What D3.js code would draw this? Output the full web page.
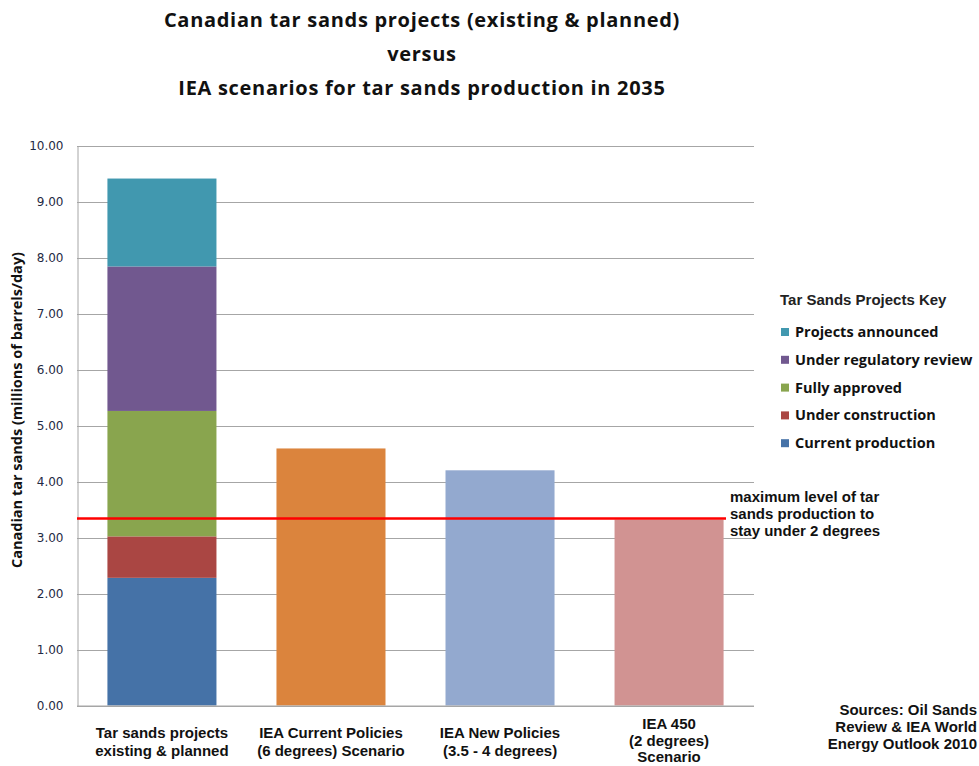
<!DOCTYPE html>
<html>
<head>
<meta charset="utf-8">
<script src="https://cdn.jsdelivr.net/npm/d3@7"></script>
<style>
  body { margin: 0; background: #fff; }
  svg { display: block; }
</style>
</head>
<body>
<svg id="chart" width="979" height="766"></svg>
<script>
// ---------- data ----------
const categories = ["Tar sands projects existing & planned", "IEA Current Policies (6 degrees) Scenario",
    "IEA New Policies (3.5 - 4 degrees)", "IEA 450 (2 degrees) Scenario"];
const categoryLines = [
    ["Tar sands projects", "existing & planned"],
    ["IEA Current Policies", "(6 degrees) Scenario"],
    ["IEA New Policies", "(3.5 - 4 degrees)"],
    ["IEA 450", "(2 degrees)", "Scenario"]
];
// stacked pieces for the first bar (bottom to top)
const stackKeys = ["Current production", "Under construction", "Fully approved", "Under regulatory review", "Projects announced"];
const stackValues = [2.28, 0.74, 2.24, 2.58, 1.57];
const stackColors = ["#4572a7", "#aa4643", "#89a54e", "#71588f", "#4198af"];
// single bars for the IEA scenarios
const scenarioValues = [4.59, 4.20, 3.32];
const scenarioColors = ["#db843d", "#93a9cf", "#d19392"];
const limitValue = 3.34;
const yTicks = [0, 1, 2, 3, 4, 5, 6, 7, 8, 9, 10];

// ---------- layout ----------
const svg = d3.select("#chart");
const plot = { left: 77, right: 754, top: 145.5, bottom: 705.5 };

const x = d3.scaleBand()
    .domain(categories)
    .range([plot.left, plot.right])
    .paddingInner(0.355)
    .paddingOuter(0.18);

const y = d3.scaleLinear()
    .domain([0, 10])
    .range([plot.bottom, plot.top]);

// title
const title = ["Canadian tar sands projects (existing & planned)", "versus",
    "IEA scenarios for tar sands production in 2035"];
svg.append("g").selectAll("text")
    .data(title)
    .enter().append("text")
    .attr("x", 422)
    .attr("y", (d, i) => 27 + i * 34)
    .attr("text-anchor", "middle")
    .style("font-family", "'Open Sans', sans-serif")
    .style("font-weight", "bold")
    .style("font-size", "20px")
    .style("letter-spacing", "0.7px")
    .style("fill", "#111")
    .text(d => d);

// gridlines
svg.append("g")
    .selectAll("line")
    .data(yTicks)
    .enter().append("line")
    .attr("x1", plot.left)
    .attr("x2", plot.right)
    .attr("y1", d => Math.round(y(d)) + 0.5)
    .attr("y2", d => Math.round(y(d)) + 0.5)
    .attr("stroke", "#a6a6a6")
    .attr("stroke-width", 1);

// y axis
const yAxis = svg.append("g")
    .attr("transform", "translate(" + (plot.left + 0.5) + ",0)")
    .call(d3.axisLeft(y).tickValues(yTicks).tickSize(0).tickPadding(14).tickFormat(d3.format(".2f")));
yAxis.select(".domain").attr("stroke", "#a6a6a6");
yAxis.selectAll("text")
    .style("font-family", "'DejaVu Sans', Verdana, sans-serif")
    .style("font-size", "12px")
    .style("fill", "#1f2a44");

// y axis title
svg.append("text")
    .attr("transform", "translate(22," + 410 + ") rotate(-90)")
    .attr("text-anchor", "middle")
    .style("font-family", "'Open Sans', sans-serif")
    .style("font-weight", "bold")
    .style("font-size", "14.5px")
    .style("fill", "#111")
    .text("Canadian tar sands (millions of barrels/day)");

// stacked bar
let base = 0;
const stacked = stackValues.map((v, i) => {
    const s = { key: stackKeys[i], y0: base, y1: base + v, color: stackColors[i] };
    base += v;
    return s;
});
svg.append("g").selectAll("rect")
    .data(stacked)
    .enter().append("rect")
    .attr("x", x(categories[0]))
    .attr("width", x.bandwidth())
    .attr("y", d => y(d.y1))
    .attr("height", d => y(d.y0) - y(d.y1))
    .attr("fill", d => d.color);

// scenario bars
svg.append("g").selectAll("rect")
    .data(scenarioValues)
    .enter().append("rect")
    .attr("x", (d, i) => x(categories[i + 1]))
    .attr("width", x.bandwidth())
    .attr("y", d => y(d))
    .attr("height", d => y(0) - y(d))
    .attr("fill", (d, i) => scenarioColors[i]);

// bottom axis line
svg.append("line")
    .attr("x1", plot.left)
    .attr("x2", plot.right)
    .attr("y1", plot.bottom + 0.5)
    .attr("y2", plot.bottom + 0.5)
    .attr("stroke", "#a6a6a6");

// category labels
categoryLines.forEach((lines, i) => {
    svg.append("text")
        .attr("x", x(categories[i]) + x.bandwidth() / 2)
        .attr("y", lines.length > 2 ? 729 : 738)
        .attr("text-anchor", "middle")
        .style("font-family", "'Liberation Sans', Arial, sans-serif")
        .style("font-weight", "bold")
        .style("font-size", "15px")
        .style("fill", "#111")
        .selectAll("tspan")
        .data(lines)
        .enter().append("tspan")
        .attr("x", x(categories[i]) + x.bandwidth() / 2)
        .attr("dy", (d, j) => j === 0 ? 0 : (lines.length > 2 ? 16.5 : 17.5))
        .text(d => d);
});

// 2 degree limit line
svg.append("line")
    .attr("x1", plot.left)
    .attr("x2", 726)
    .attr("y1", y(limitValue))
    .attr("y2", y(limitValue))
    .attr("stroke", "#ff0000")
    .attr("stroke-width", 2.5);

svg.append("text")
    .attr("x", 730)
    .attr("y", 502)
    .style("font-family", "'Liberation Sans', Arial, sans-serif")
    .style("font-weight", "bold")
    .style("font-size", "15px")
    .style("fill", "#111")
    .selectAll("tspan")
    .data(["maximum level of tar", "sands production to", "stay under 2 degrees"])
    .enter().append("tspan")
    .attr("x", 730)
    .attr("dy", (d, j) => j === 0 ? 0 : 17)
    .text(d => d);

// legend
const legend = svg.append("g");
legend.append("text")
    .attr("x", 780)
    .attr("y", 305)
    .style("font-family", "'Liberation Sans', Arial, sans-serif")
    .style("font-weight", "bold")
    .style("font-size", "15px")
    .style("fill", "#222")
    .text("Tar Sands Projects Key");

const legendItems = stacked.slice().reverse();
const item = legend.selectAll("g.item")
    .data(legendItems)
    .enter().append("g")
    .attr("class", "item")
    .attr("transform", (d, i) => "translate(781," + (332 + i * 27.8) + ")");
item.append("rect")
    .attr("x", 0)
    .attr("y", -4)
    .attr("width", 8)
    .attr("height", 8)
    .attr("fill", d => d.color);
item.append("text")
    .attr("x", 14)
    .attr("y", 5)
    .style("font-family", "'Open Sans', sans-serif")
    .style("font-weight", "bold")
    .style("font-size", "14.5px")
    .style("fill", "#111")
    .text(d => d.key);

// sources
svg.append("text")
    .attr("text-anchor", "end")
    .style("font-family", "'Liberation Sans', Arial, sans-serif")
    .style("font-weight", "bold")
    .style("font-size", "15px")
    .style("fill", "#111")
    .selectAll("tspan")
    .data(["Sources: Oil Sands", "Review & IEA World", "Energy Outlook 2010"])
    .enter().append("tspan")
    .attr("x", 977)
    .attr("y", (d, j) => 715 + j * 17)
    .text(d => d);
</script>
</body>
</html>
